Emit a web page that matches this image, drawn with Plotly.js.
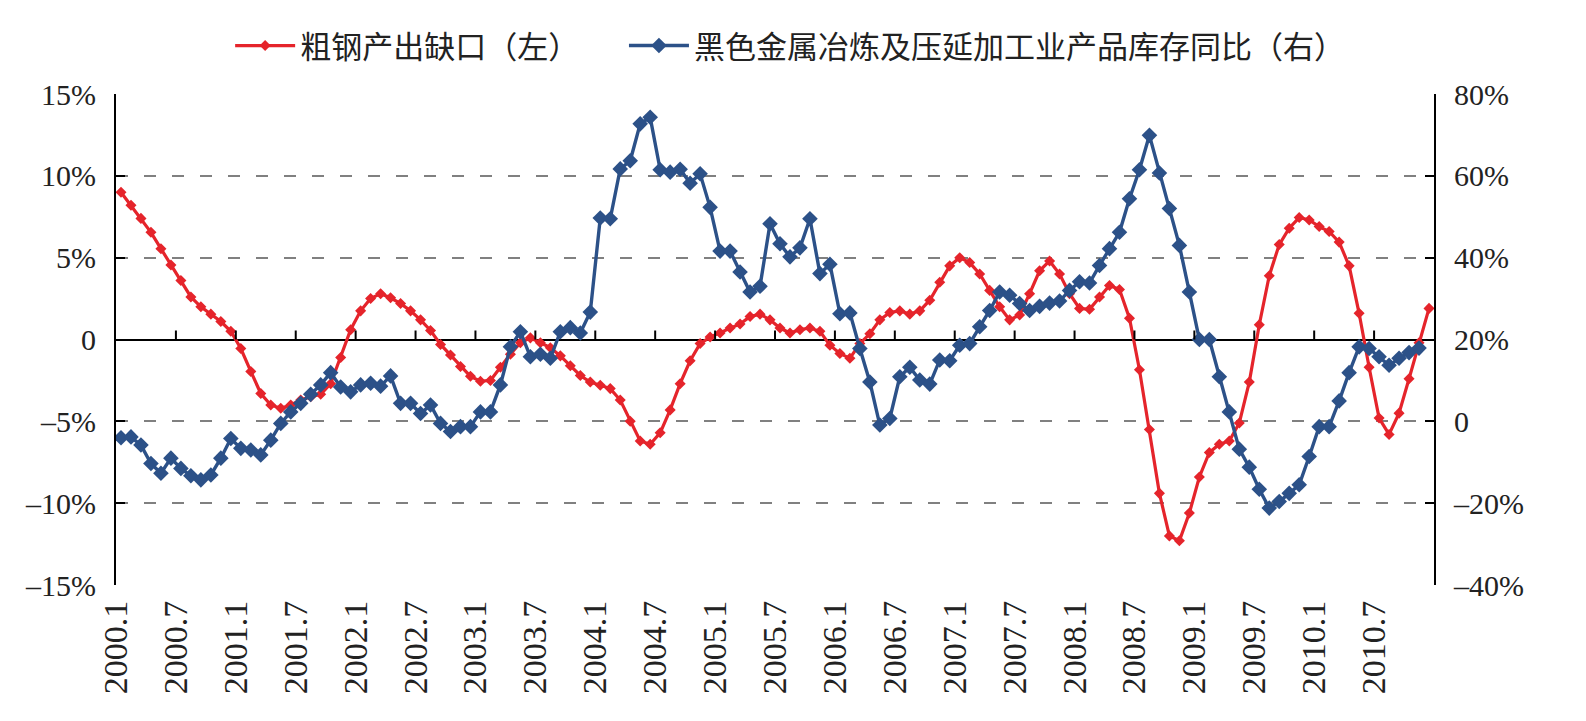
<!DOCTYPE html>
<html>
<head>
<meta charset="utf-8">
<script src="https://cdn.plot.ly/plotly-3.0.1.min.js"></script>
<style>
  html, body { margin: 0; padding: 0; background: #ffffff; }
  #chart { width: 1586px; height: 721px; }
</style>
</head>
<body>
<div id="chart"></div>
<script>
// Monthly categories 2000.1 ... 2010.12
const years = [2000, 2001, 2002, 2003, 2004, 2005, 2006, 2007, 2008, 2009, 2010];
const categories = [];
years.forEach(y => { for (let m = 1; m <= 12; m++) categories.push(y + '.' + m); });

// 粗钢产出缺口（左）, %
const steelGap = [
  9.0, 8.2, 7.4, 6.55, 5.55, 4.55, 3.6, 2.6, 2.0, 1.55, 1.1, 0.5,
  -0.55, -1.95, -3.3, -4.0, -4.2, -4.0, -3.7, -3.5, -3.35, -2.7, -1.1, 0.6,
  1.75, 2.5, 2.8, 2.55, 2.2, 1.75, 1.2, 0.55, -0.3, -0.95, -1.65, -2.25,
  -2.55, -2.5, -1.7, -0.9, -0.2, 0.1, -0.2, -0.5, -1.0, -1.6, -2.2, -2.6,
  -2.8, -3.0, -3.7, -5.0, -6.2, -6.4, -5.7, -4.3, -2.7, -1.3, -0.25, 0.15,
  0.4, 0.7, 0.95, 1.4, 1.55, 1.2, 0.7, 0.4, 0.6, 0.7, 0.5, -0.35,
  -0.85, -1.15, -0.25, 0.35, 1.2, 1.65, 1.75, 1.55, 1.75, 2.4, 3.5, 4.5,
  5.0, 4.7, 4.0, 3.0, 2.0, 1.2, 1.5, 2.8, 4.2, 4.8, 4.0, 2.8,
  1.9, 1.85, 2.6, 3.3, 3.05, 1.3, -1.85, -5.5, -9.4, -12.0, -12.3, -10.6,
  -8.4, -6.9, -6.4, -6.2, -5.1, -2.6, 0.9, 3.9, 5.8, 6.8, 7.45, 7.3,
  6.9, 6.6, 5.95, 4.5, 1.6, -1.7, -4.8, -5.8, -4.5, -2.4, -0.2, 1.9
];

// 黑色金属冶炼及压延加工业产品库存同比（右）, %
const inventoryYoY = [
  -4.0, -3.8, -5.8, -10.3, -12.7, -9.0, -11.5, -13.3, -14.3, -13.1, -9.0, -4.2,
  -6.6, -7.0, -8.2, -4.6, -0.5, 2.3, 4.4, 6.6, 8.9, 11.9, 8.4, 7.2,
  8.9, 9.3, 8.6, 11.1, 4.4, 4.4, 1.9, 4.0, -0.5, -2.5, -1.3, -1.3,
  2.3, 2.3, 8.9, 18.2, 21.9, 15.8, 16.4, 15.4, 21.9, 22.9, 21.6, 26.7,
  49.7, 49.5, 61.7, 63.7, 72.7, 74.3, 61.5, 60.9, 61.6, 58.2, 60.5, 52.3,
  41.6, 41.6, 36.5, 31.6, 33.0, 48.3, 43.4, 40.2, 42.4, 49.5, 36.1, 38.4,
  26.3, 26.5, 17.8, 9.6, -0.9, 0.7, 10.9, 13.2, 10.1, 9.1, 15.0, 14.8,
  18.6, 19.0, 23.1, 27.1, 31.6, 30.8, 28.8, 27.1, 28.1, 28.9, 29.4, 32.0,
  34.1, 33.8, 38.1, 42.2, 46.2, 54.4, 61.5, 69.9, 60.7, 52.0, 43.0, 31.6,
  20.0, 20.0, 10.9, 2.3, -6.8, -11.2, -16.6, -21.2, -19.6, -17.6, -15.5, -8.6,
  -1.3, -1.3, 5.0, 11.9, 18.2, 17.8, 15.8, 13.7, 15.4, 16.8, 17.9
];

const tickLabels = ['2000.1','2000.7','2001.1','2001.7','2002.1','2002.7','2003.1','2003.7',
  '2004.1','2004.7','2005.1','2005.7','2006.1','2006.7','2007.1','2007.7','2008.1','2008.7',
  '2009.1','2009.7','2010.1','2010.7'];

const leftTicks = [15, 10, 5, 0, -5, -10, -15];
const leftTickText = ['15%', '10%', '5%', '0', '\u20135%', '\u201310%', '\u201315%'];
const rightTicks = [80, 60, 40, 20, 0, -20, -40];
const rightTickText = ['80%', '60%', '40%', '20%', '0', '\u201320%', '\u201340%'];

const redColor = '#E5242B';
const blueColor = '#2C5188';
const numFont = 'Liberation Serif, Times New Roman, serif';
const cjkFont = 'Noto Sans CJK SC, sans-serif';

const idx = categories.map((_, i) => i);
const tickPos = tickLabels.map(l => categories.indexOf(l) - 0.5);

const traces = [
  {
    name: '粗钢产出缺口（左）',
    legend: 'legend',
    x: idx.slice(0, steelGap.length),
    y: steelGap,
    text: categories.slice(0, steelGap.length),
    type: 'scatter', mode: 'lines+markers',
    line: { color: redColor, width: 3.2 },
    marker: { symbol: 'diamond', size: 8.5, color: redColor },
    xaxis: 'x', yaxis: 'y',
    hovertemplate: '%{text}: %{y}%<extra></extra>'
  },
  {
    name: '黑色金属冶炼及压延加工业产品库存同比（右）',
    legend: 'legend2',
    x: idx.slice(0, inventoryYoY.length),
    y: inventoryYoY,
    text: categories.slice(0, inventoryYoY.length),
    type: 'scatter', mode: 'lines+markers',
    line: { color: blueColor, width: 3.4 },
    marker: { symbol: 'diamond', size: 12, color: blueColor },
    xaxis: 'x', yaxis: 'y2',
    hovertemplate: '%{text}: %{y}%<extra></extra>'
  }
];

// small tick marks on the zero line, at every 6-month boundary
const shapes = [];
tickPos.forEach(p => {
  if (p <= -0.5) return;
  shapes.push({
    type: 'line', xref: 'x', yref: 'y',
    ysizemode: 'pixel', yanchor: 0,
    x0: p, x1: p, y0: 0, y1: 9,
    line: { color: '#000000', width: 2 }
  });
});

const legendCommon = {
  orientation: 'h', yanchor: 'middle', y: 1.098, xanchor: 'left',
  font: { family: cjkFont, size: 31, color: '#222222' },
  itemwidth: 60,
  bgcolor: 'rgba(0,0,0,0)'
};

const layout = {
  width: 1586, height: 721,
  margin: { l: 116, r: 152, t: 94, b: 136 },
  paper_bgcolor: '#ffffff', plot_bgcolor: '#ffffff',
  showlegend: true,
  legend: Object.assign({}, legendCommon, { x: 0.0866 }),
  legend2: Object.assign({}, legendCommon, { x: 0.3854 }),
  xaxis: {
    type: 'linear', range: [-0.5, 131.5],
    tickmode: 'array', tickvals: tickPos, ticktext: tickLabels,
    tickangle: -90, ticks: '', showgrid: false, zeroline: false,
    showline: false, ticklabelstandoff: 8,
    tickfont: { family: numFont, size: 34, color: '#222222' }
  },
  yaxis: {
    range: [-15, 15], tickmode: 'array', tickvals: leftTicks, ticktext: leftTickText,
    ticks: 'inside', ticklen: 9, tickwidth: 2, tickcolor: '#000000',
    showline: true, linecolor: '#000000', linewidth: 2,
    showgrid: true, gridcolor: '#808080', gridwidth: 1.5, griddash: '12px,16px',
    zeroline: true, zerolinecolor: '#000000', zerolinewidth: 2,
    tickfont: { family: numFont, size: 30, color: '#222222' },
    ticklabelstandoff: 12
  },
  yaxis2: {
    range: [-40, 80], overlaying: 'y', side: 'right',
    tickmode: 'array', tickvals: rightTicks, ticktext: rightTickText,
    ticks: 'inside', ticklen: 9, tickwidth: 2, tickcolor: '#000000',
    showline: true, linecolor: '#000000', linewidth: 2,
    showgrid: false, zeroline: false,
    tickfont: { family: numFont, size: 30, color: '#222222' },
    ticklabelstandoff: 12
  },
  shapes: shapes
};

Plotly.newPlot('chart', traces, layout, { displayModeBar: false, staticPlot: false });
</script>
</body>
</html>
